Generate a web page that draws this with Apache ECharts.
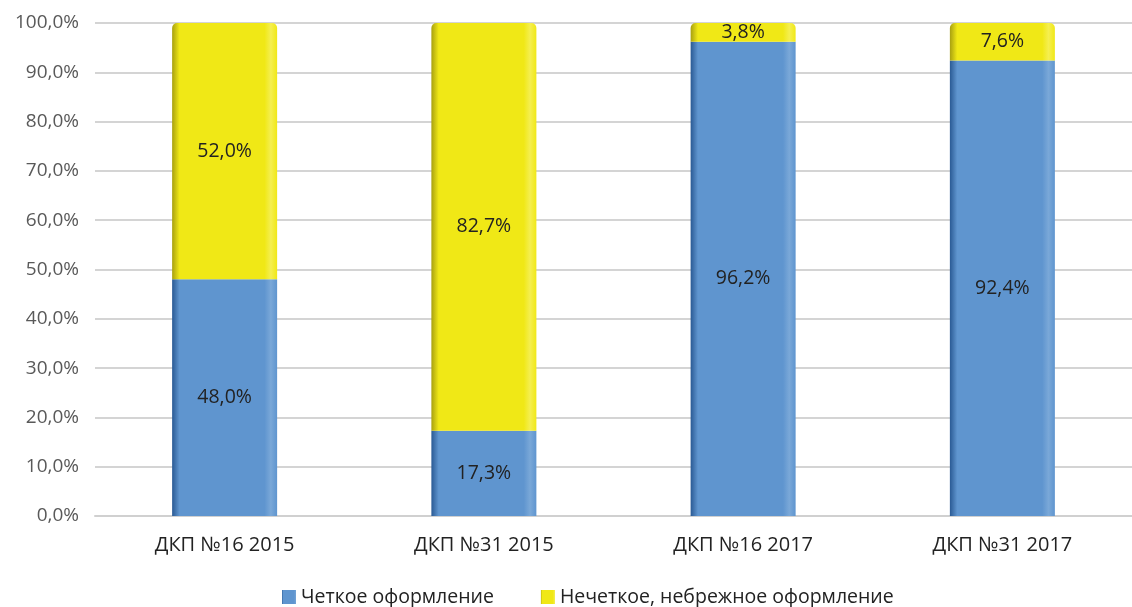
<!DOCTYPE html>
<html>
<head>
<meta charset="utf-8">
<script src="https://cdn.jsdelivr.net/npm/echarts@6/dist/echarts.min.js"></script>
<style>html,body{margin:0;padding:0;background:#fff}#c{width:1132px;height:607px}</style>
</head>
<body>
<div id="c"></div>
<script>
const categories = ['ДКП №16 2015', 'ДКП №31 2015', 'ДКП №16 2017', 'ДКП №31 2017'];
const clearValues = [48.0, 17.3, 96.2, 92.4];
const unclearValues = [52.0, 82.7, 3.8, 7.6];
const seriesNames = ['Четкое оформление', 'Нечеткое, небрежное оформление'];

const FONT = 'Open Sans';
const fmt = v => v.toFixed(1).replace('.', ',') + '%';

function grad(dark, main, light) {
  return new echarts.graphic.LinearGradient(0, 0, 1, 0, [
    {offset: 0, color: dark},
    {offset: 0.07, color: main},
    {offset: 0.88, color: main},
    {offset: 0.94, color: light},
    {offset: 1, color: main}
  ]);
}

const chart = echarts.init(document.getElementById('c'));
chart.setOption({
  animation: false,
  textStyle: {fontFamily: FONT},
  grid: {left: 95, right: 0, top: 23, bottom: 91},
  legend: {
    top: 587,
    left: 282,
    padding: 0,
    itemWidth: 14,
    itemHeight: 14,
    itemGap: 47,
    icon: 'rect',
    textStyle: {fontFamily: FONT, fontSize: 19.5, color: '#222'},
    data: seriesNames
  },
  xAxis: {
    type: 'category',
    data: categories,
    axisTick: {show: false},
    axisLine: {lineStyle: {color: '#d0d0d0', width: 2}},
    axisLabel: {fontFamily: FONT, fontSize: 20, color: '#222', margin: 19}
  },
  yAxis: {
    type: 'value',
    min: 0, max: 100, interval: 10,
    axisLabel: {fontFamily: FONT, fontSize: 19, color: '#595959', margin: 16, formatter: fmt},
    splitLine: {lineStyle: {color: '#d4d4d4', width: 2}}
  },
  series: [
    {
      name: seriesNames[0], type: 'bar', stack: 's', barWidth: '40.5%',
      data: clearValues,
      itemStyle: {color: grad('#2a5a94', '#5f95cf', '#7aa8d8')},
      label: {show: true, position: 'inside', formatter: p => fmt(p.value), fontFamily: FONT, fontSize: 19.5, color: '#222'}
    },
    {
      name: seriesNames[1], type: 'bar', stack: 's', barWidth: '40.5%',
      data: unclearValues,
      itemStyle: {color: grad('#a8a010', '#f0e816', '#f5ef50'), borderRadius: [5, 5, 0, 0]},
      label: {show: true, position: 'inside', formatter: p => fmt(p.value), fontFamily: FONT, fontSize: 19.5, color: '#222'}
    }
  ]
});
</script>
</body>
</html>
